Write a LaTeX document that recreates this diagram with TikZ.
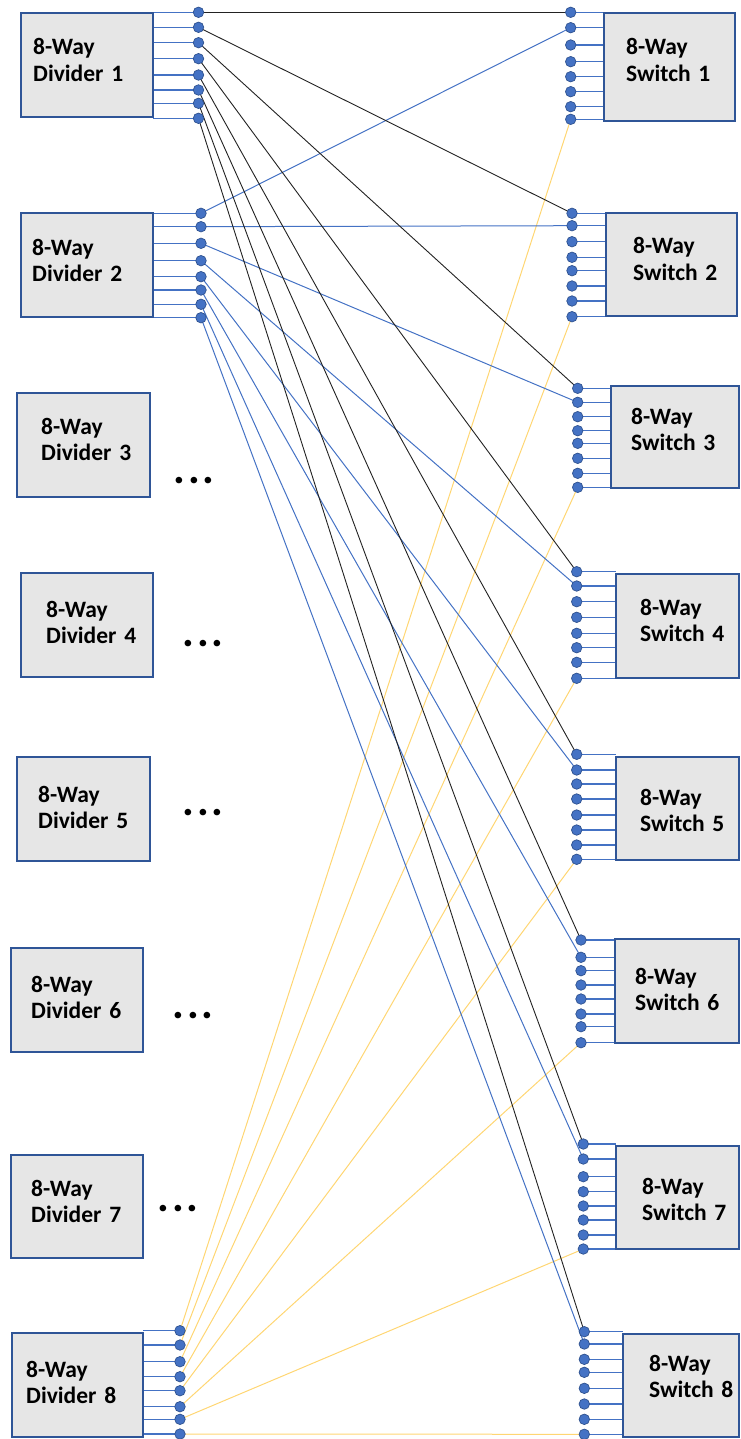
\documentclass[tikz,border=0pt]{standalone}
\usepackage{fontspec}
\setmainfont{Carlito}
\usetikzlibrary{backgrounds}
\definecolor{boxfill}{HTML}{E6E6E6}
\definecolor{boxline}{HTML}{2F5597}
\definecolor{portblue}{HTML}{4472C4}
\definecolor{dotline}{HTML}{2F528F}
\definecolor{goldline}{HTML}{FFD673}
\definecolor{darkline}{HTML}{222222}
\begin{document}
\begin{tikzpicture}[x=1pt,y=-1pt,
  unitbox/.style={draw=boxline, fill=boxfill, line width=2.2pt, anchor=north west, inner sep=0, outer sep=0},
  boxtext/.style={anchor=base west, inner sep=0, font=\fontsize{23.5}{26.5}\selectfont\bfseries, text width=110pt, align=left},
  port/.style={circle, fill=portblue, draw=dotline, line width=0.7pt, minimum size=10.5pt, inner sep=0},
  portline/.style={draw=portblue, line width=1.1pt},
  conA/.style={draw=darkline, line width=0.9pt},
  conB/.style={draw=portblue, line width=1pt},
  conH/.style={draw=goldline, line width=1pt},
  ellip/.style={inner sep=0, font=\fontsize{44}{44}\selectfont\bfseries}
]
\useasboundingbox (0,0) rectangle (740,1439);

% boxes and their labels
\foreach \n/\xa/\ya/\xb/\yb/\tx/\ty/\t in {
  D1/21/13/153/117/33/55/Divider 1,
  D2/21/213/153/317/32/255/Divider 2,
  D3/17/393/150/497/41/434/Divider 3,
  D4/21/573/153/677/46/617/Divider 4,
  D5/17/757/150/861/38/802/Divider 5,
  D6/11/948/143/1052/31/992/Divider 6,
  D7/11/1155/143/1258/31/1196/Divider 7,
  D8/12/1333/143/1437/26/1377/Divider 8,
  S1/604/13/735/121/626/55/Switch 1,
  S2/606/213/737/316/633/254/Switch 2,
  S3/611/386/739/488/631/424/Switch 3,
  S4/616/574/739/678/640/615/Switch 4,
  S5/616/757/739/860/640/805/Switch 5,
  S6/615/939/739/1043/635/984/Switch 6,
  S7/616/1146/739/1249/642/1194/Switch 7,
  S8/623/1334/739/1437/649/1371/Switch 8}{
  \node[unitbox, minimum width={(\xb-\xa)*1pt}, minimum height={(\yb-\ya)*1pt}] (\n) at (\xa,\ya) {};
  \node[boxtext] (T\n) at (\tx,\ty) {8-Way\\\t};
}

% ellipses beside dividers 3-7
\node[ellip] (E3) at (194,481) {.\hspace{3pt}.\hspace{3pt}.};
\node[ellip] (E4) at (203,644) {.\hspace{3pt}.\hspace{3pt}.};
\node[ellip] (E5) at (203,813) {.\hspace{3pt}.\hspace{3pt}.};
\node[ellip] (E6) at (193,1016) {.\hspace{3pt}.\hspace{3pt}.};
\node[ellip] (E7) at (178,1209) {.\hspace{3pt}.\hspace{3pt}.};

% divider ports
\foreach \y [count=\k] in {12.3,27.3,42.7,58.7,75,90,103.3,118.3}
  \node[port] (d1-\k) at (198.5,\y) {};
\foreach \y [count=\k] in {213.3,226.7,243.3,260.7,276.7,290,304.3,317.7}
  \node[port] (d2-\k) at (201,\y) {};
\foreach \y [count=\k] in {1330.7,1345,1361.7,1376.7,1390.7,1406.7,1419.3,1434}
  \node[port] (d8-\k) at (180,\y) {};

% switch ports
\foreach \s/\x/\ys in {
  1/570.7/{12.3,27.7,45,61.7,76.7,91.7,106.7,119.3},
  2/572/{213.3,225.7,241.7,257.3,270.7,286,301,316.7},
  3/577.7/{388.3,402.3,416.7,430.7,443.3,458.3,473.3,487.3},
  4/576.7/{571.7,586,601.7,617.3,633.3,647.7,662.3,678.3},
  5/576.7/{754.3,770,784,799,815,830,845,859.3},
  6/581/{940,957.3,970.7,985,999,1014,1026.7,1042.7},
  7/583.3/{1144,1159,1176.7,1191.7,1206,1220,1235,1249},
  8/584.3/{1331.7,1344,1359.3,1372.3,1388.3,1404,1419.3,1434.3}}{
  \foreach \y [count=\k] in \ys
    \node[port] (s\s-\k) at (\x,\y) {};
}

\begin{scope}[on background layer]
  % port stubs
  \foreach \d in {1,2,8}
    \foreach \k in {1,...,8}
      \draw[portline] (D\d.east |- d\d-\k.center) -- (d\d-\k.center);
  \foreach \s in {1,...,8}
    \foreach \k in {1,...,8}
      \draw[portline] (s\s-\k.center) -- (S\s.west |- s\s-\k.center);
  % connectors: divider i port j -> switch j port i
  \foreach \j in {1,...,8} {
    \draw[conA] (d1-\j.center) -- (s\j-1.center);
    \draw[conB] (d2-\j.center) -- (s\j-2.center);
    \draw[conH] (d8-\j.center) -- (s\j-8.center);
  }
\end{scope}
\end{tikzpicture}
\end{document}
